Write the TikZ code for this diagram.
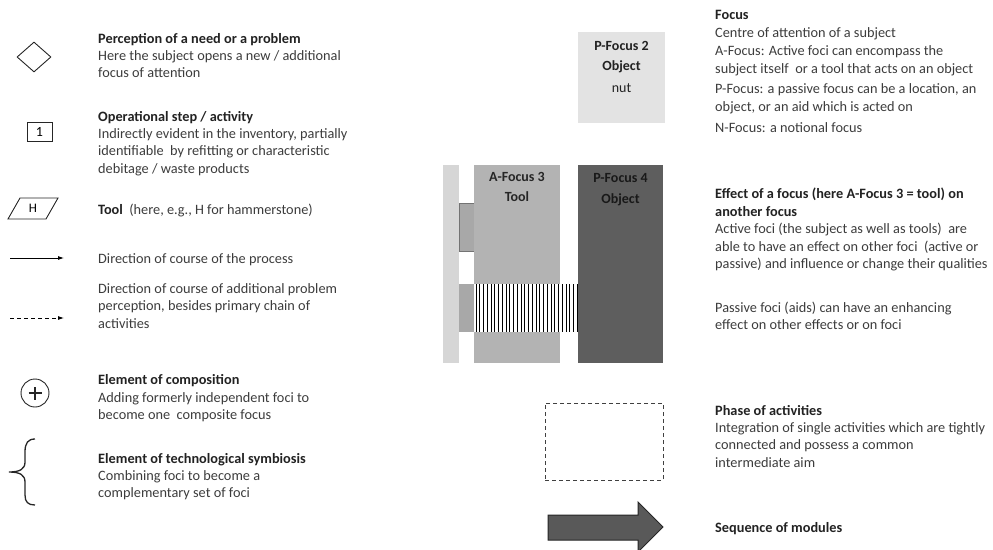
\documentclass[tikz,border=0pt]{standalone}
\usepackage{fontspec}
\setmainfont{Carlito}
\usetikzlibrary{shapes.geometric,arrows.meta}
\definecolor{txt}{HTML}{3C3C3C}
\definecolor{head}{HTML}{222222}
\definecolor{paleg}{HTML}{E3E3E3}
\definecolor{barg}{HTML}{D6D6D6}
\definecolor{toolg}{HTML}{B3B3B3}
\definecolor{aidg}{HTML}{A8A8A8}
\definecolor{objg}{HTML}{5E5E5E}
\definecolor{arrg}{HTML}{595959}
\tikzset{
  legtext/.style={anchor=north west, inner sep=0pt, align=left, text=txt,
    font=\fontsize{14.3}{17.3}\selectfont},
  boxtitle/.style={inner sep=0pt, text=head, font=\fontsize{14}{15}\selectfont\bfseries},
  symline/.style={draw=black!85, line width=0.9pt},
}
\newcommand{\hd}[1]{{\color{head}\bfseries #1}}
\begin{document}
\begin{tikzpicture}[x=1pt,y=-1pt]
\useasboundingbox (0,0) rectangle (993,549);
\clip (0,0) rectangle (993,549);

% ---- left column: symbols ----
\node[symline, diamond, minimum width=34pt, minimum height=30pt, inner sep=0pt] (need) at (34,57) {};
\node[symline, rectangle, minimum width=25pt, minimum height=19pt, inner sep=0pt,
      font=\fontsize{14}{14}\selectfont] (step) at (39.5,132) {1};
\draw[symline] (20,198) -- (58,198) -- (46,219) -- (8,219) -- cycle;
\node[inner sep=0pt, font=\fontsize{13}{13}\selectfont] (hammer) at (33,208.5) {H};
\coordinate (pa) at (10,258); \coordinate (pb) at (64,258);
\draw[line width=0.8pt, -{Latex[length=6pt,width=4pt]}] (pa) -- (pb);
\coordinate (da) at (10,318); \coordinate (db) at (64,318);
\draw[line width=0.8pt, dash pattern=on 4pt off 3pt, -{Latex[length=6pt,width=4pt]}] (da) -- (db);
\node[symline, circle, minimum size=28pt, inner sep=0pt] (comp) at (35,393) {};
\draw[line width=1.4pt, black!85] ([xshift=-6.5pt]comp.center) -- ([xshift=6.5pt]comp.center)
  ([yshift=-6.5pt]comp.center) -- ([yshift=6.5pt]comp.center);
\draw[line width=1.3pt, black!85]
  (35,439) .. controls (28,439) and (25,443) .. (25,452) -- (25,462)
  .. controls (25,469) and (20,472) .. (9,472)
  .. controls (20,472) and (25,475) .. (25,482) -- (25,495)
  .. controls (25,502) and (28,505) .. (35,505);

% ---- left column: explanations ----
\node[legtext] (t1) at (98,33) {\hd{Perception of a need or a problem}\\Here the subject opens a new / additional\\focus of attention};
\node[legtext] (t2) at (98,111) {\hd{Operational step / activity}\\Indirectly evident in the inventory, partially\\identifiable\ \ by refitting or characteristic\\debitage / waste products};
\node[legtext] (t3) at (98,204) {\hd{Tool}\ \ (here, e.g., H for hammerstone)};
\node[legtext] (t4) at (98,253.5) {Direction of course of the process};
\node[legtext] (t5) at (98,283.5) {Direction of course of additional problem\\perception, besides primary chain of\\activities};
\node[legtext] (t6) at (98,374.5) {\hd{Element of composition}\\Adding formerly independent foci to\\become one\ \ composite focus};
\node[legtext] (t7) at (98,453) {\hd{Element of technological symbiosis}\\Combining foci to become a\\complementary set of foci};

% ---- centre: foci ----
\fill[paleg] (578,32) rectangle (665,123);
\node[boxtitle] (pf2a) at (621.5,46) {P-Focus 2};
\node[boxtitle] (pf2b) at (621.5,67) {Object};
\node[inner sep=0pt, text=head, font=\fontsize{14}{15}\selectfont] (pf2c) at (621.5,88) {nut};

\fill[barg] (443,165) rectangle (459,363);
\fill[toolg] (474,165) rectangle (560,363);
\fill[objg] (578,165) rectangle (663,363);
\fill[aidg] (459,203) rectangle (474,251);
\draw[black!55, line width=0.8pt] (474,203) -- (459,203) -- (459,251) -- (474,251);
\fill[aidg] (459,284) rectangle (474,332);
\fill[white] (474,284) rectangle (578,332);
\foreach \i in {0,...,27} {
  \draw[black, line width=0.9pt] ({476+3.75*\i},284) -- ({476+3.75*\i},332);
}
\node[boxtitle, text=black!85] (af3a) at (517,177) {A-Focus 3};
\node[boxtitle, text=black!85] (af3b) at (517,197) {Tool};
\node[boxtitle, text=black!90] (pf4a) at (620.5,178) {P-Focus 4};
\node[boxtitle, text=black!90] (pf4b) at (620.5,200) {Object};

% ---- centre: phase and sequence ----
\node[draw=black!75, line width=1pt, dash pattern=on 4pt off 3pt, rectangle,
      minimum width=118pt, minimum height=77pt, inner sep=0pt] (phase) at (604,441.5) {};
\draw[fill=arrg, draw=black!85, line width=1pt]
  (548,515) -- (638,515) -- (638,502) -- (663,527) -- (638,552) -- (638,540) -- (548,540) -- cycle;

% ---- right column: explanations ----
\node[legtext, font=\fontsize{14.3}{18}\selectfont] (r1) at (715,10) {\hd{Focus}\\Centre of attention of a subject\\A-Focus: Active foci can encompass the\\subject itself\ \ or a tool that acts on an object\\[2pt]P-Focus: a passive focus can be a location, an\\object, or an aid which is acted on\\[3pt]N-Focus: a notional focus};
\node[legtext, font=\fontsize{14.3}{17.5}\selectfont] (r2) at (715,188) {\hd{Effect of a focus (here A-Focus 3 = tool) on}\\\hd{another focus}\\Active foci (the subject as well as tools)\ \ are\\able to have an effect on other foci\ \ (active or\\passive) and influence or change their qualities};
\node[legtext] (r3) at (715,302) {Passive foci (aids) can have an enhancing\\effect on other effects or on foci};
\node[legtext] (r4) at (715,405) {\hd{Phase of activities}\\Integration of single activities which are tightly\\connected and possess a common\\intermediate aim};
\node[legtext] (r5) at (715,522) {\hd{Sequence of modules}};
\end{tikzpicture}
\end{document}
